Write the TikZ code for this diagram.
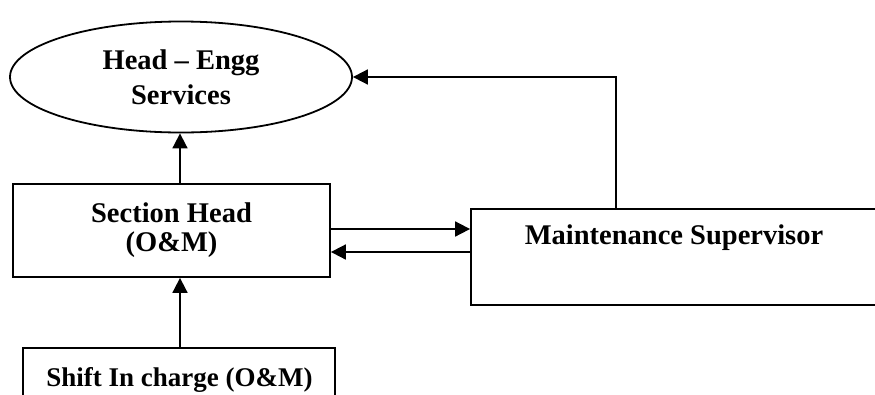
\documentclass[tikz,border=0pt]{standalone}
\usepackage{fontspec}
\setmainfont{Liberation Serif}
\usetikzlibrary{shapes.geometric,arrows.meta}
\begin{document}
\begin{tikzpicture}[x=1pt,y=-1pt,
  line width=1.8pt,
  lbl/.style={font=\bfseries\fontsize{28.5}{29}\selectfont, align=center, inner sep=0pt},
  boxnode/.style={draw, rectangle, inner sep=0pt},
  arr/.style={-{Triangle[length=15pt,width=15pt]}}]
\useasboundingbox (0,0) rectangle (875,394);
\clip (0,0) rectangle (875,394);
% nodes
\node[draw, ellipse, minimum width=342pt, minimum height=111pt, inner sep=0pt,
      font=\bfseries\fontsize{28.5}{35}\selectfont, align=center]
      (head) at (181,77) {Head -- Engg\\Services};
\node[boxnode, lbl, minimum width=317pt, minimum height=93pt] (sec) at (171.5,230.5)
      {Section Head\\(O\&M)};
\node[boxnode, minimum width=409pt, minimum height=96pt] (maint) at (675.5,257) {};
\node[lbl] (maintT) at (674,238) {Maintenance Supervisor};
\node[boxnode, minimum width=312pt, minimum height=80pt] (shift) at (179,388) {};
\node[lbl, font=\bfseries\fontsize{27}{29}\selectfont, anchor=base] (shiftT) at (179.5,386) {Shift In charge (O\&M)};
% connector helper coordinates
\coordinate (u) at (0,229);
\coordinate (l) at (0,252);
\coordinate (fb) at (616,0);
\coordinate (vx) at (180,0);
% connectors
\draw[arr] (sec.north -| vx) -- (head.south -| vx);
\draw[arr] (shift.north -| vx) -- (sec.south -| vx);
\draw[arr] (sec.east |- u) -- (maint.west |- u);
\draw[arr] (maint.west |- l) -- (sec.east |- l);
\draw[arr] (maint.north -| fb) |- (head.east);
\end{tikzpicture}
\end{document}
